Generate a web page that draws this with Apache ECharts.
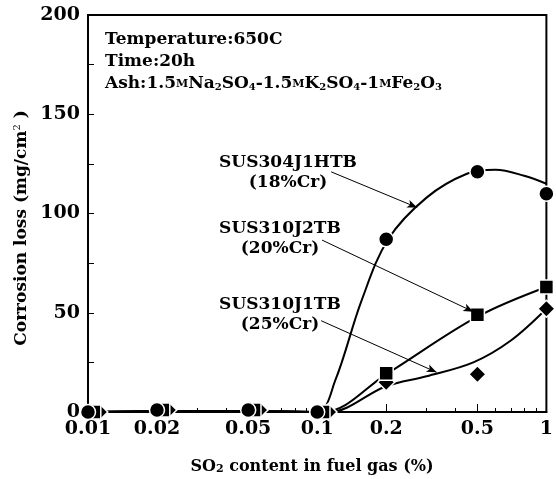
<!DOCTYPE html>
<html>
<head>
<meta charset="utf-8">
<script src="https://cdn.jsdelivr.net/npm/echarts@6.0.0/dist/echarts.min.js"></script>
<style>
  html, body { margin: 0; padding: 0; background: #fff; }
  #chart { width: 556px; height: 479px; }
</style>
</head>
<body>
<div id="chart"></div>
<script>
// markers (measured points)
const circleX = [0.01, 0.02, 0.05, 0.1, 0.2, 0.5, 1]
const circleY = [0, 1, 1, 0, 87, 121, 110]
const squareX = [0.0106, 0.0212, 0.053, 0.106, 0.2, 0.5, 1]
const squareY = [0, 1, 1, 0, 19.5, 49, 63]
const diamondX = [0.0112, 0.0224, 0.056, 0.112, 0.2, 0.5, 1]
const diamondY = [0, 1, 1, 0, 15, 19, 52]

// hand-drawn fitting curves
const curve18X = [0.01, 0.02, 0.05, 0.1, 0.12, 0.156, 0.204, 0.3, 0.45, 0.6, 0.8, 1]
const curve18Y = [0, 0.5, 0.5, 0, 16, 56, 87, 108, 120, 122, 119, 115]
const curve20X = [0.0106, 0.0212, 0.053, 0.106, 0.2, 0.5, 1]
const curve20Y = [0, 0.5, 0.5, 0, 19, 48, 63]
const curve25X = [0.0112, 0.0224, 0.056, 0.112, 0.2, 0.3, 0.48, 0.7, 1]
const curve25Y = [0, 0.5, 0.5, 0, 13, 18, 25, 36, 52]

// arrows from labels to curves: [from, to]
const arrow18 = [[0.115, 121], [0.273, 103]]
const arrow20 = [[0.105, 86.6], [0.48, 50.5]]
const arrow25 = [[0.104, 46], [0.332, 20]]

// axis ticks
const xLabels = [0.01, 0.02, 0.05, 0.1, 0.2, 0.5, 1]
const xMinorTicks = [0.03, 0.04, 0.06, 0.07, 0.08, 0.09, 0.3, 0.4, 0.6, 0.7, 0.8, 0.9]

const FONT = '"DejaVu Serif", serif'
const zip = (xs, ys) => xs.map((x, i) => [x, ys[i]])

const chart = echarts.init(document.getElementById('chart'))

const curve = (xs, ys, arrow) => ({
  type: 'line',
  data: zip(xs, ys),
  smooth: 0.35,
  symbol: 'none',
  clip: false,
  silent: true,
  z: 2,
  lineStyle: { color: '#000', width: 2 },
  markLine: {
    silent: true,
    symbol: ['none', 'arrow'],
    symbolSize: [6, 10],
    label: { show: false },
    lineStyle: { color: '#000', width: 1, type: 'solid' },
    data: [[{ coord: arrow[0] }, { coord: arrow[1] }]]
  }
})

const markers = (xs, ys, symbol, size, z) => ({
  type: 'scatter',
  data: zip(xs, ys),
  symbol,
  symbolSize: size,
  clip: false,
  silent: true,
  z,
  itemStyle: { color: '#000', borderColor: '#fff', borderWidth: 1.5, opacity: 1 }
})

chart.setOption({
  animation: false,
  grid: { left: 88, right: 4, top: 15, bottom: 67, show: true, borderColor: '#000', borderWidth: 2 },
  xAxis: [{
    type: 'log',
    logBase: 10,
    min: 0.01,
    max: 1,
    axisLine: { lineStyle: { color: '#000', width: 2 } },
    axisTick: { inside: true, length: 8, customValues: xLabels, lineStyle: { color: '#000', width: 1 } },
    axisLabel: {
      customValues: xLabels,
      margin: 8,
      fontFamily: FONT, fontSize: 19, fontWeight: 'bold', color: '#000',
      formatter: v => String(+Number(v).toPrecision(3))
    },
    splitLine: { show: false },
    minorTick: { show: false }
  }, {
    type: 'log',
    logBase: 10,
    min: 0.01,
    max: 1,
    position: 'bottom',
    offset: 0,
    axisLine: { show: false },
    axisTick: { inside: true, length: 4, customValues: xMinorTicks, lineStyle: { color: '#000', width: 1 } },
    axisLabel: { show: false },
    splitLine: { show: false }
  }],
  yAxis: {
    type: 'value',
    min: 0,
    max: 200,
    interval: 50,
    axisLine: { show: true, lineStyle: { color: '#000', width: 2 } },
    axisTick: { show: true, inside: true, length: 6, lineStyle: { color: '#000', width: 1 } },
    minorTick: { show: true, splitNumber: 2, length: 6, lineStyle: { color: '#000', width: 1 } },
    axisLabel: { margin: 8, fontFamily: FONT, fontSize: 19, fontWeight: 'bold', color: '#000' },
    splitLine: { show: false }
  },
  graphic: [
    {
      type: 'text', x: 105, y: 29, silent: true,
      style: {
        text: 'Temperature:650C\nTime:20h\nAsh:1.5{m|M}Na{s|2}SO{s|4}-1.5{m|M}K{s|2}SO{s|4}-1{m|M}Fe{s|2}O{s|3}',
        font: 'bold 17px ' + FONT,
        lineHeight: 22,
        fill: '#000',
        rich: {
          m: { font: 'bold 11px ' + FONT, fill: '#000', verticalAlign: 'bottom', lineHeight: 22, padding: [0, 0, 5, 0] },
          s: { font: 'bold 10px ' + FONT, fill: '#000', verticalAlign: 'bottom', lineHeight: 22, padding: [0, 0, 3, 0] }
        }
      }
    },
    {
      type: 'text', x: 22, y: 228, rotation: Math.PI / 2, silent: true,
      style: {
        text: 'Corrosion loss (mg/cm{sup|2} )',
        font: 'bold 17px ' + FONT,
        align: 'center', verticalAlign: 'middle',
        fill: '#000',
        rich: { sup: { font: '10px ' + FONT, fill: '#000', verticalAlign: 'top', padding: [0, 0, 10, 0] } }
      }
    },
    {
      type: 'text', x: 312, y: 467, silent: true,
      style: {
        text: 'SO{s|2} content in fuel gas (%)',
        font: 'bold 16px ' + FONT,
        align: 'center', verticalAlign: 'middle',
        fill: '#000',
        rich: { s: { font: 'bold 11px ' + FONT, fill: '#000', verticalAlign: 'bottom' } }
      }
    },
    {
      type: 'text', x: 288, y: 153, silent: true,
      style: { text: 'SUS304J1HTB\n(18%Cr)', font: 'bold 17px ' + FONT, lineHeight: 20, align: 'center', fill: '#000' }
    },
    {
      type: 'text', x: 280, y: 219, silent: true,
      style: { text: 'SUS310J2TB\n(20%Cr)', font: 'bold 17px ' + FONT, lineHeight: 20, align: 'center', fill: '#000' }
    },
    {
      type: 'text', x: 280, y: 295, silent: true,
      style: { text: 'SUS310J1TB\n(25%Cr)', font: 'bold 17px ' + FONT, lineHeight: 20, align: 'center', fill: '#000' }
    }
  ],
  series: [
    curve(curve18X, curve18Y, arrow18),
    curve(curve20X, curve20Y, arrow20),
    curve(curve25X, curve25Y, arrow25),
    markers(diamondX, diamondY, 'diamond', 17, 3),
    markers(squareX, squareY, 'rect', 14, 4),
    markers(circleX, circleY, 'circle', 15, 5)
  ]
})
</script>
</body>
</html>
